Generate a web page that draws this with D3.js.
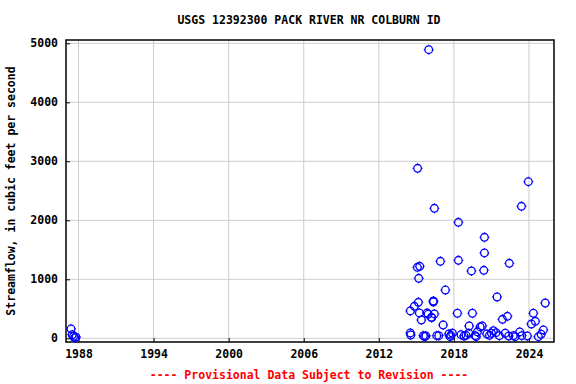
<!DOCTYPE html>
<html>
<head>
<meta charset="utf-8">
<script src="https://cdn.jsdelivr.net/npm/d3@7"></script>
<style>
  html, body { margin: 0; padding: 0; background: #fff; }
  svg { display: block; }
  text { font-family: "DejaVu Sans Mono", "Liberation Mono", monospace; font-weight: bold; }
</style>
</head>
<body>
<svg id="chart" width="576" height="384"></svg>
<script>
// ---- data (decimal year, streamflow cfs) ----
const title = "USGS 12392300 PACK RIVER NR COLBURN ID";
const yLabel = "Streamflow, in cubic feet per second";
const footer = "---- Provisional Data Subject to Revision ----";
const xTicks = [1988, 1994, 2000, 2006, 2012, 2018, 2024];
const yTicks = [0, 1000, 2000, 3000, 4000, 5000];

const years = [
  1987.4, 1987.5, 1987.6, 1987.7, 1987.8,
  2014.52, 2014.55, 2014.52, 2014.84, 2015.08, 2015.1, 2015.16, 2015.19, 2015.24, 2015.27, 2015.4,
  2015.56, 2015.66, 2015.76, 2015.86, 2015.94, 2015.99, 2016.2, 2016.23, 2016.36, 2016.36, 2016.44, 2016.44,
  2016.63, 2016.79, 2016.92, 2017.14, 2017.32, 2017.6, 2017.7, 2017.75, 2017.88,
  2018.28, 2018.36, 2018.36, 2018.57, 2018.81, 2018.97, 2019.19, 2019.22, 2019.4, 2019.48,
  2019.7, 2019.78, 2019.88, 2020.1, 2020.26, 2020.39, 2020.44, 2020.44, 2020.63, 2020.84, 2021.0,
  2021.15, 2021.37, 2021.45, 2021.63, 2021.88, 2022.1, 2022.28, 2022.38, 2022.43, 2022.75, 2022.9,
  2023.26, 2023.4, 2023.42, 2023.87, 2023.95, 2024.19, 2024.35, 2024.51, 2024.75, 2024.97, 2025.15, 2025.3
];
const flows = [
  160, 60, 30, 10, 20,
  90, 56, 463, 542, 1203, 2881, 610, 1017, 429, 1220, 310,
  44, 30, 40, 429, 407, 4892, 356, 350, 632, 615, 412, 2203,
  44, 44, 1305, 225, 818, 73, 27, 51, 85,
  424, 1966, 1322, 61, 39, 51, 85, 208, 1141, 424,
  44, 27, 107, 192, 208, 1152, 1712, 1446, 73, 51, 85,
  129, 95, 700, 44, 322, 85, 373, 39, 1271, 44, 27,
  107, 2237, 44, 39, 2654, 242, 424, 288, 27, 68, 141, 598
];

// ---- layout ----
const svg = d3.select("#chart");
const pL = 66, pR = 554, pT = 40, pB = 342;
const x = d3.scaleLinear().domain([1987, 2026]).range([pL, pR]);
const y = d3.scaleLinear().domain([-63, 5056]).range([pB, pT]);

// gridlines
svg.append("g").selectAll("line").data(xTicks).join("line")
  .attr("x1", d => x(d)).attr("x2", d => x(d))
  .attr("y1", pT).attr("y2", pB)
  .attr("stroke", "#cccccc").attr("stroke-width", 1);
svg.append("g").selectAll("line").data(yTicks).join("line")
  .attr("x1", pL).attr("x2", pR)
  .attr("y1", d => y(d)).attr("y2", d => y(d))
  .attr("stroke", "#cccccc").attr("stroke-width", 1);

// axes (labels, short ticks inside)
const xAxis = d3.axisBottom(x).tickValues(xTicks).tickFormat(d3.format("d")).tickSize(-4).tickPadding(8);
const gx = svg.append("g").attr("transform", `translate(0,${pB})`).call(xAxis);
gx.select(".domain").remove();
gx.selectAll(".tick line").attr("stroke", "#000");
gx.selectAll("text").attr("font-size", 11.5).attr("fill", "#000")
  .style("font-family", "DejaVu Sans Mono").style("font-weight", "bold");

const yAxis = d3.axisLeft(y).tickValues(yTicks).tickFormat(d3.format("d")).tickSize(-4).tickPadding(8);
const gy = svg.append("g").attr("transform", `translate(${pL},0)`).call(yAxis);
gy.select(".domain").remove();
gy.selectAll(".tick line").attr("stroke", "#000");
gy.selectAll("text").attr("font-size", 11.5).attr("fill", "#000")
  .style("font-family", "DejaVu Sans Mono").style("font-weight", "bold");

// frame
svg.append("rect").attr("x", pL).attr("y", pT)
  .attr("width", pR - pL).attr("height", pB - pT)
  .attr("fill", "none").attr("stroke", "#000").attr("stroke-width", 1.5);

// points
const pts = years.map((yr, i) => ({ yr, v: flows[i] }));
const r = 3.8;
const mk = svg.append("g").selectAll("g").data(pts).join("g")
  .attr("transform", d => `translate(${x(d.yr)},${y(d.v)})`);
mk.append("circle").attr("r", r).attr("fill", "none")
  .attr("stroke", "#0000ff").attr("stroke-width", 1.3);
mk.append("path")
  .attr("d", `M0,${-r-1.2}V${-r}M0,${r}V${r+1.2}M${-r-1.2},0H${-r}M${r},0H${r+1.2}`)
  .attr("stroke", "#0000ff").attr("stroke-width", 1);

// title
svg.append("text").attr("x", 309).attr("y", 24).attr("text-anchor", "middle")
  .attr("font-size", 11.5).attr("fill", "#000").text(title);

// y label
svg.append("text").attr("transform", `translate(15,${(pT + pB) / 2}) rotate(-90)`)
  .attr("text-anchor", "middle").attr("font-size", 11.5).attr("fill", "#000").text(yLabel);

// footer
svg.append("text").attr("x", 309).attr("y", 379).attr("text-anchor", "middle")
  .attr("font-size", 11.5).attr("fill", "#ff0000").text(footer);
</script>
</body>
</html>
